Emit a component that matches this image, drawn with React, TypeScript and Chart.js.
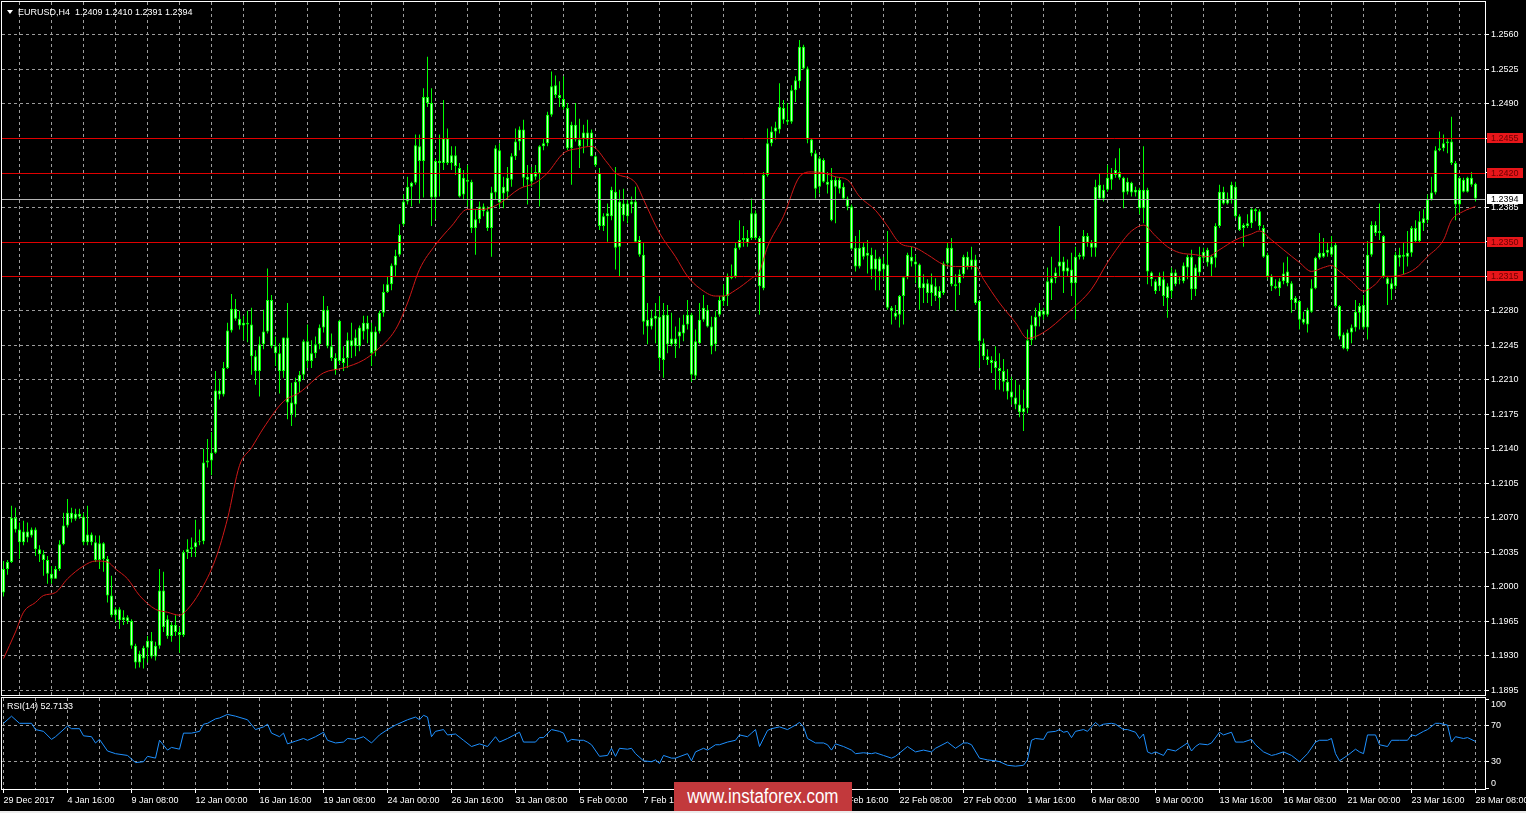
import React, { useEffect, useRef } from "react";
import { Chart, registerables } from "chart.js";

Chart.register(...registerables);

const FONT = "'Liberation Sans', Arial, sans-serif";

// ---- EURUSD H4 candles (bar index 0 = 29 Dec 2017) ----
const opens = [
  1.1994,1.2018,1.2025,1.2070,1.2058,1.2045,1.2056,1.2052,1.2058,1.2038,
  1.2033,1.2027,1.2013,1.2008,1.2018,1.2043,1.2062,1.2075,1.2069,1.2074,
  1.2071,1.2045,1.2053,1.2045,1.2027,1.2044,1.2028,1.1991,1.1971,1.1977,
  1.1966,1.1969,1.1965,1.1940,1.1923,1.1927,1.1938,1.1945,1.1929,1.1940,
  1.1996,1.1967,1.1950,1.1961,1.1954,1.1951,1.2035,1.2038,1.2040,1.2045,
  1.2046,1.2126,1.2128,1.2136,1.2199,1.2195,1.2222,1.2260,1.2282,1.2272,
  1.2265,1.2268,1.2266,1.2234,1.2219,1.2246,1.2259,1.2291,1.2244,1.2237,
  1.2219,1.2253,1.2187,1.2185,1.2208,1.2215,1.2249,1.2229,1.2237,1.2246,
  1.2263,1.2281,1.2244,1.2232,1.2229,1.2227,1.2232,1.2250,1.2244,1.2244,
  1.2259,1.2268,1.2259,1.2239,1.2259,1.2278,1.2299,1.2307,1.2326,1.2337,
  1.2368,1.2391,1.2406,1.2410,1.2447,1.2432,1.2497,1.2491,1.2395,1.2432,
  1.2430,1.2455,1.2430,1.2438,1.2425,1.2398,1.2413,1.2411,1.2364,1.2373,
  1.2386,1.2381,1.2364,1.2400,1.2390,1.2406,1.2401,1.2413,1.2437,1.2452,
  1.2464,1.2416,1.2411,1.2416,1.2420,1.2447,1.2450,1.2479,1.2509,1.2499,
  1.2495,1.2486,1.2445,1.2469,1.2454,1.2455,1.2461,1.2461,1.2437,1.2420,
  1.2366,1.2376,1.2376,1.2401,1.2345,1.2389,1.2376,1.2388,1.2391,1.2352,
  1.2337,1.2271,1.2264,1.2275,1.2274,1.2230,1.2276,1.2246,1.2252,1.2254,
  1.2257,1.2266,1.2276,1.2214,1.2247,1.2271,1.2281,1.2264,1.2246,1.2276,
  1.2290,1.2295,1.2315,1.2315,1.2344,1.2352,1.2354,1.2354,1.2379,1.2354,
  1.2303,1.2418,1.2450,1.2462,1.2464,1.2486,1.2474,1.2472,1.2504,1.2513,
  1.2548,1.2526,1.2454,1.2440,1.2406,1.2433,1.2411,1.2413,1.2406,1.2413,
  1.2406,1.2394,1.2386,1.2344,1.2325,1.2345,1.2336,1.2337,1.2322,1.2333,
  1.2322,1.2327,1.2283,1.2278,1.2276,1.2295,1.2314,1.2335,1.2330,1.2327,
  1.2303,1.2308,1.2298,1.2305,1.2293,1.2298,1.2328,1.2344,1.2307,1.2308,
  1.2317,1.2335,1.2325,1.2332,1.2290,1.2247,1.2234,1.2230,1.2229,1.2222,
  1.2219,1.2208,1.2198,1.2192,1.2185,1.2177,1.2181,1.2250,1.2264,1.2274,
  1.2280,1.2276,1.2308,1.2313,1.2325,1.2330,1.2320,1.2322,1.2308,1.2335,
  1.2335,1.2356,1.2349,1.2344,1.2408,1.2394,1.2403,1.2413,1.2418,1.2421,
  1.2415,1.2401,1.2410,1.2400,1.2403,1.2384,1.2403,1.2319,1.2310,1.2305,
  1.2312,1.2293,1.2300,1.2319,1.2312,1.2310,1.2324,1.2335,1.2302,1.2319,
  1.2334,1.2342,1.2327,1.2334,1.2366,1.2401,1.2389,1.2393,1.2406,1.2376,
  1.2367,1.2366,1.2369,1.2383,1.2381,1.2364,1.2337,1.2315,1.2305,1.2303,
  1.2310,1.2320,1.2308,1.2293,1.2290,1.2272,1.2266,1.2279,1.2303,1.2334,
  1.2339,1.2339,1.2337,1.2347,1.2285,1.2256,1.2241,1.2258,1.2263,1.2278,
  1.2286,1.2263,1.2337,1.2367,1.2359,1.2356,1.2313,1.2308,1.2305,1.2337,
  1.2335,1.2335,1.2339,1.2364,1.2351,1.2369,1.2372,1.2393,1.2400,1.2443,
  1.2445,1.2450,1.2452,1.2430,1.2388,1.2413,1.2401,1.2415,1.2409,
];

const highs = [
  1.2026,1.2027,1.2082,1.2080,1.2065,1.2067,1.2065,1.2060,1.2060,1.2042,
  1.2037,1.2031,1.2021,1.2021,1.2047,1.2075,1.2089,1.2080,1.2079,1.2079,
  1.2075,1.2082,1.2055,1.2052,1.2052,1.2045,1.2031,1.2011,1.1979,1.1979,
  1.1976,1.1971,1.1967,1.1942,1.1935,1.1940,1.1950,1.1954,1.1944,1.2018,
  1.2015,1.1971,1.1964,1.1971,1.1959,1.2037,1.2048,1.2050,1.2068,1.2058,
  1.2140,1.2150,1.2157,1.2219,1.2211,1.2228,1.2268,1.2297,1.2292,1.2280,
  1.2275,1.2280,1.2283,1.2240,1.2254,1.2281,1.2323,1.2296,1.2254,1.2247,
  1.2253,1.2288,1.2207,1.2212,1.2219,1.2251,1.2266,1.2250,1.2254,1.2266,
  1.2295,1.2285,1.2257,1.2237,1.2271,1.2244,1.2258,1.2268,1.2261,1.2265,
  1.2275,1.2275,1.2268,1.2264,1.2280,1.2307,1.2315,1.2328,1.2342,1.2368,
  1.2398,1.2416,1.2411,1.2459,1.2459,1.2506,1.2538,1.2506,1.2434,1.2459,
  1.2494,1.2465,1.2447,1.2447,1.2430,1.2423,1.2428,1.2413,1.2383,1.2391,
  1.2389,1.2386,1.2406,1.2448,1.2450,1.2416,1.2426,1.2440,1.2465,1.2467,
  1.2474,1.2428,1.2426,1.2428,1.2448,1.2455,1.2482,1.2523,1.2519,1.2513,
  1.2518,1.2491,1.2472,1.2491,1.2475,1.2469,1.2474,1.2464,1.2438,1.2425,
  1.2379,1.2389,1.2406,1.2426,1.2403,1.2404,1.2393,1.2396,1.2406,1.2356,
  1.2349,1.2288,1.2281,1.2288,1.2295,1.2288,1.2286,1.2278,1.2264,1.2273,
  1.2276,1.2291,1.2278,1.2261,1.2288,1.2296,1.2286,1.2274,1.2280,1.2295,
  1.2307,1.2318,1.2327,1.2349,1.2372,1.2366,1.2362,1.2394,1.2382,1.2356,
  1.2421,1.2465,1.2467,1.2472,1.2511,1.2494,1.2491,1.2509,1.2518,1.2555,
  1.2550,1.2528,1.2455,1.2443,1.2437,1.2435,1.2421,1.2425,1.2416,1.2415,
  1.2410,1.2396,1.2388,1.2356,1.2362,1.2349,1.2352,1.2344,1.2342,1.2335,
  1.2335,1.2361,1.2285,1.2286,1.2296,1.2315,1.2339,1.2345,1.2337,1.2328,
  1.2317,1.2312,1.2318,1.2313,1.2305,1.2330,1.2349,1.2354,1.2317,1.2322,
  1.2337,1.2340,1.2345,1.2337,1.2291,1.2252,1.2241,1.2234,1.2244,1.2237,
  1.2231,1.2221,1.2213,1.2210,1.2205,1.2200,1.2261,1.2275,1.2283,1.2288,
  1.2283,1.2324,1.2335,1.2324,1.2366,1.2335,1.2332,1.2339,1.2345,1.2339,
  1.2362,1.2359,1.2352,1.2413,1.2420,1.2408,1.2428,1.2425,1.2435,1.2445,
  1.2416,1.2415,1.2411,1.2406,1.2405,1.2447,1.2405,1.2320,1.2312,1.2319,
  1.2320,1.2308,1.2324,1.2322,1.2315,1.2329,1.2337,1.2342,1.2327,1.2345,
  1.2344,1.2344,1.2337,1.2369,1.2408,1.2406,1.2400,1.2411,1.2411,1.2378,
  1.2369,1.2378,1.2384,1.2384,1.2383,1.2367,1.2339,1.2317,1.2312,1.2313,
  1.2329,1.2335,1.2310,1.2295,1.2291,1.2279,1.2283,1.2312,1.2335,1.2359,
  1.2354,1.2349,1.2356,1.2349,1.2286,1.2258,1.2261,1.2266,1.2291,1.2288,
  1.2296,1.2351,1.2371,1.2371,1.2389,1.2357,1.2315,1.2313,1.2340,1.2344,
  1.2349,1.2361,1.2366,1.2372,1.2381,1.2383,1.2398,1.2416,1.2447,1.2462,
  1.2459,1.2455,1.2477,1.2432,1.2416,1.2415,1.2416,1.2421,1.2410,
];

const lows = [
  1.1990,1.2012,1.2024,1.2055,1.2028,1.2042,1.2045,1.2050,1.2031,1.2025,
  1.2011,1.2003,1.2003,1.2008,1.2016,1.2042,1.2060,1.2065,1.2067,1.2069,
  1.2042,1.2042,1.2042,1.2025,1.2018,1.2015,1.1984,1.1969,1.1964,1.1957,
  1.1961,1.1962,1.1937,1.1917,1.1918,1.1917,1.1923,1.1927,1.1925,1.1937,
  1.1954,1.1947,1.1944,1.1950,1.1933,1.1949,1.2028,1.2030,1.2030,1.2042,
  1.2043,1.2121,1.2113,1.2135,1.2190,1.2193,1.2221,1.2258,1.2270,1.2261,
  1.2250,1.2248,1.2215,1.2205,1.2193,1.2241,1.2257,1.2242,1.2224,1.2196,
  1.2212,1.2170,1.2163,1.2172,1.2197,1.2210,1.2222,1.2222,1.2232,1.2241,
  1.2258,1.2242,1.2229,1.2215,1.2226,1.2219,1.2222,1.2232,1.2234,1.2239,
  1.2251,1.2247,1.2224,1.2234,1.2257,1.2274,1.2298,1.2301,1.2315,1.2335,
  1.2366,1.2388,1.2386,1.2408,1.2389,1.2395,1.2487,1.2366,1.2373,1.2396,
  1.2423,1.2428,1.2423,1.2418,1.2395,1.2393,1.2386,1.2359,1.2337,1.2369,
  1.2376,1.2361,1.2335,1.2393,1.2384,1.2384,1.2393,1.2406,1.2433,1.2443,
  1.2406,1.2388,1.2406,1.2413,1.2386,1.2443,1.2447,1.2477,1.2496,1.2487,
  1.2484,1.2443,1.2408,1.2452,1.2425,1.2440,1.2447,1.2437,1.2426,1.2362,
  1.2361,1.2350,1.2372,1.2322,1.2315,1.2371,1.2369,1.2379,1.2349,1.2335,
  1.2256,1.2246,1.2261,1.2247,1.2220,1.2212,1.2237,1.2244,1.2232,1.2242,
  1.2249,1.2261,1.2208,1.2210,1.2246,1.2269,1.2263,1.2236,1.2239,1.2274,
  1.2285,1.2285,1.2312,1.2313,1.2342,1.2345,1.2345,1.2352,1.2352,1.2276,
  1.2301,1.2416,1.2447,1.2454,1.2460,1.2470,1.2469,1.2470,1.2492,1.2506,
  1.2525,1.2450,1.2437,1.2394,1.2399,1.2410,1.2399,1.2371,1.2369,1.2399,
  1.2393,1.2382,1.2342,1.2320,1.2323,1.2332,1.2318,1.2312,1.2301,1.2301,
  1.2312,1.2281,1.2266,1.2271,1.2263,1.2266,1.2312,1.2325,1.2308,1.2281,
  1.2288,1.2288,1.2285,1.2290,1.2281,1.2296,1.2325,1.2305,1.2280,1.2296,
  1.2313,1.2322,1.2322,1.2286,1.2222,1.2230,1.2225,1.2217,1.2200,1.2200,
  1.2198,1.2190,1.2185,1.2180,1.2172,1.2158,1.2176,1.2245,1.2251,1.2264,
  1.2271,1.2274,1.2291,1.2308,1.2315,1.2298,1.2315,1.2295,1.2271,1.2332,
  1.2332,1.2345,1.2335,1.2335,1.2393,1.2391,1.2401,1.2403,1.2415,1.2413,
  1.2384,1.2398,1.2396,1.2396,1.2378,1.2369,1.2307,1.2305,1.2297,1.2300,
  1.2285,1.2273,1.2293,1.2305,1.2307,1.2308,1.2312,1.2291,1.2295,1.2315,
  1.2330,1.2325,1.2315,1.2324,1.2364,1.2388,1.2388,1.2389,1.2374,1.2361,
  1.2345,1.2364,1.2364,1.2371,1.2362,1.2334,1.2312,1.2300,1.2302,1.2295,
  1.2307,1.2305,1.2278,1.2281,1.2261,1.2266,1.2258,1.2278,1.2302,1.2332,
  1.2334,1.2335,1.2335,1.2283,1.2251,1.2241,1.2239,1.2247,1.2259,1.2261,
  1.2261,1.2251,1.2335,1.2356,1.2352,1.2313,1.2286,1.2291,1.2302,1.2325,
  1.2317,1.2325,1.2335,1.2349,1.2349,1.2361,1.2369,1.2392,1.2398,1.2442,
  1.2442,1.2440,1.2428,1.2372,1.2379,1.2400,1.2400,1.2406,1.2391,
];

const closes = [
  1.2018,1.2025,1.2070,1.2058,1.2045,1.2056,1.2050,1.2058,1.2038,1.2033,
  1.2027,1.2013,1.2008,1.2018,1.2043,1.2062,1.2075,1.2069,1.2074,1.2071,
  1.2045,1.2053,1.2045,1.2027,1.2044,1.2028,1.1991,1.1971,1.1977,1.1966,
  1.1969,1.1965,1.1940,1.1923,1.1932,1.1938,1.1945,1.1929,1.1940,1.1996,
  1.1959,1.1950,1.1961,1.1954,1.1951,1.2035,1.2038,1.2040,1.2045,1.2046,
  1.2126,1.2128,1.2136,1.2199,1.2195,1.2222,1.2260,1.2282,1.2272,1.2265,
  1.2268,1.2266,1.2234,1.2219,1.2246,1.2259,1.2291,1.2244,1.2237,1.2219,
  1.2253,1.2187,1.2175,1.2208,1.2215,1.2249,1.2229,1.2237,1.2246,1.2263,
  1.2281,1.2244,1.2232,1.2220,1.2270,1.2232,1.2250,1.2244,1.2253,1.2263,
  1.2268,1.2261,1.2237,1.2259,1.2278,1.2299,1.2307,1.2326,1.2336,1.2357,
  1.2391,1.2406,1.2410,1.2448,1.2432,1.2497,1.2491,1.2395,1.2432,1.2430,
  1.2455,1.2430,1.2438,1.2427,1.2396,1.2415,1.2411,1.2364,1.2373,1.2386,
  1.2381,1.2364,1.2400,1.2445,1.2443,1.2399,1.2415,1.2437,1.2452,1.2464,
  1.2415,1.2413,1.2420,1.2421,1.2447,1.2450,1.2479,1.2508,1.2499,1.2496,
  1.2487,1.2445,1.2469,1.2454,1.2447,1.2461,1.2454,1.2437,1.2428,1.2366,
  1.2376,1.2379,1.2403,1.2344,1.2391,1.2377,1.2389,1.2391,1.2350,1.2337,
  1.2269,1.2264,1.2273,1.2272,1.2232,1.2276,1.2246,1.2252,1.2246,1.2259,
  1.2266,1.2276,1.2215,1.2249,1.2271,1.2283,1.2264,1.2244,1.2274,1.2291,
  1.2295,1.2315,1.2313,1.2344,1.2352,1.2354,1.2349,1.2379,1.2354,1.2305,
  1.2418,1.2450,1.2462,1.2466,1.2487,1.2474,1.2472,1.2504,1.2514,1.2548,
  1.2526,1.2454,1.2440,1.2404,1.2435,1.2411,1.2408,1.2372,1.2413,1.2404,
  1.2394,1.2386,1.2343,1.2325,1.2344,1.2335,1.2339,1.2322,1.2333,1.2320,
  1.2328,1.2283,1.2280,1.2274,1.2295,1.2314,1.2337,1.2330,1.2327,1.2303,
  1.2308,1.2298,1.2307,1.2295,1.2300,1.2328,1.2344,1.2307,1.2305,1.2317,
  1.2335,1.2325,1.2332,1.2288,1.2249,1.2234,1.2230,1.2227,1.2222,1.2219,
  1.2208,1.2198,1.2192,1.2185,1.2177,1.2181,1.2250,1.2266,1.2274,1.2280,
  1.2276,1.2310,1.2313,1.2319,1.2330,1.2320,1.2324,1.2308,1.2335,1.2337,
  1.2356,1.2349,1.2344,1.2406,1.2394,1.2403,1.2415,1.2420,1.2423,1.2415,
  1.2400,1.2411,1.2400,1.2403,1.2384,1.2403,1.2320,1.2312,1.2300,1.2315,
  1.2295,1.2305,1.2319,1.2307,1.2311,1.2326,1.2335,1.2302,1.2324,1.2335,
  1.2340,1.2329,1.2335,1.2366,1.2401,1.2389,1.2394,1.2408,1.2376,1.2362,
  1.2364,1.2369,1.2383,1.2381,1.2366,1.2335,1.2315,1.2305,1.2303,1.2310,
  1.2318,1.2308,1.2291,1.2288,1.2271,1.2268,1.2281,1.2303,1.2334,1.2339,
  1.2335,1.2342,1.2345,1.2285,1.2254,1.2242,1.2258,1.2263,1.2279,1.2285,
  1.2263,1.2337,1.2367,1.2359,1.2361,1.2315,1.2307,1.2302,1.2337,1.2334,
  1.2337,1.2339,1.2364,1.2351,1.2371,1.2374,1.2393,1.2400,1.2443,1.2445,
  1.2450,1.2452,1.2430,1.2388,1.2415,1.2401,1.2415,1.2408,1.2394,
];

// ---- Moving average (red), read at selected bars ----
const maBars = [
  0,3,5,8,10,13,16,20,23,26,28,31,34,38,41,44,46,49,53,56,59,62,65,70,74,80,85,90,93,98,
  101,104,108,112,116,120,124,129,133,136,140,144,147,151,153,158,160,164,168,171,174,178,
  180,183,187,189,191,195,199,202,205,208,211,214,218,221,224,228,231,235,238,243,245,249,
  253,256,260,266,272,276,280,282,285,288,291,294,298,301,304,308,312,314,317,320,324,327,
  330,332,334,337,340,343,345,347,350,353,356,360,362,365,368,
];
const maValues = [
  1.1927,1.1954,1.1974,1.1984,1.1991,1.1994,1.2008,1.2021,1.2026,1.2025,1.2018,1.2008,1.1991,
  1.1977,1.1974,1.1971,1.1977,1.1994,1.2028,1.2069,1.2123,1.2141,1.2161,1.2188,1.2197,1.2217,
  1.2222,1.2230,1.2239,1.2261,1.2288,1.2322,1.2347,1.2366,1.2383,1.2383,1.2389,1.2404,1.2410,
  1.2420,1.2440,1.2445,1.2447,1.2430,1.2420,1.2410,1.2393,1.2359,1.2335,1.2315,1.2303,1.2295,
  1.2295,1.2301,1.2313,1.2320,1.2345,1.2376,1.2416,1.2421,1.2420,1.2416,1.2413,1.2396,1.2382,
  1.2366,1.2349,1.2344,1.2337,1.2327,1.2325,1.2325,1.2312,1.2288,1.2268,1.2252,1.2258,1.2278,
  1.2302,1.2329,1.2352,1.2361,1.2367,1.2356,1.2345,1.2339,1.2337,1.2335,1.2342,1.2352,1.2358,
  1.2361,1.2352,1.2342,1.2329,1.2320,1.2324,1.2326,1.2320,1.2310,1.2300,1.2307,1.2315,1.2315,
  1.2317,1.2323,1.2335,1.2352,1.2372,1.2381,1.2386,
];

// ---- RSI(14), read at selected bars ----
const rsiBars = [
  0,2,4,7,8,10,12,13,16,17,19,20,22,23,24,26,28,31,33,35,36,38,39,41,42,44,45,47,49,50,
  51,53,54,56,58,61,63,65,66,67,69,70,71,73,75,76,78,80,81,83,85,86,88,90,92,94,96,98,101,103,
  104,105,106,107,108,110,111,113,115,117,119,121,123,124,126,129,130,133,134,135,137,139,140,141,
  142,144,145,146,147,149,151,152,153,154,156,157,158,160,162,163,164,165,167,168,171,172,173,175,
  176,178,179,181,183,184,186,187,188,189,191,192,194,196,198,199,200,201,203,205,206,207,208,210,
  212,213,215,217,218,220,222,223,226,228,230,232,233,236,238,240,241,242,244,246,248,249,251,253,
  255,256,257,258,260,261,263,264,265,266,267,268,270,271,273,274,275,277,278,280,281,283,284,285,
  286,287,288,290,291,293,294,296,297,298,299,301,302,304,305,307,308,310,312,313,315,317,318,320,
  322,324,326,328,329,331,332,333,334,336,338,339,340,341,343,344,346,347,349,351,352,353,355,356,
  358,359,361,362,363,365,366,368,
];
const rsiValues = [
  73,81,73,73,66,64,55,58,70,67,67,59,58,51,55,42,39,37,29,30,36,34,54,43,46,44,62,62,64,72,
  73,78,79,83,81,77,66,69,72,62,58,62,50,53,56,54,58,63,54,51,52,56,55,58,51,60,66,71,77,80,
  77,82,80,58,64,66,60,61,54,47,50,47,58,52,56,63,52,52,57,57,66,64,62,52,
  55,54,54,52,49,36,37,45,36,45,44,45,39,31,30,32,28,37,34,34,39,31,41,45,
  43,49,49,52,54,60,58,62,66,47,65,67,69,66,71,74,69,56,51,51,49,43,50,47,
  43,39,40,39,40,37,34,36,47,41,43,41,45,52,45,51,51,49,34,32,31,30,26,25,
  26,32,54,56,55,63,64,66,63,64,57,64,66,64,74,70,72,73,72,66,66,63,56,61,
  41,39,41,37,44,42,45,51,42,47,50,49,51,63,60,63,52,52,55,49,41,37,38,41,
  37,30,39,52,54,54,56,39,31,37,44,41,39,60,60,49,47,54,54,54,60,59,64,66,
  73,73,71,52,58,56,57,52.7,
];

// ---- axes / annotations ----
const priceTicks = [
  1.1895,1.1930,1.1965,1.2000,1.2035,1.2070,1.2105,1.2140,1.2175,1.2210,
  1.2245,1.2280,1.2315,1.2350,1.2385,1.2420,1.2455,1.2490,1.2525,1.2560,
];
const levels = [1.2455, 1.2420, 1.2350, 1.2315];
const lastPrice = 1.2394;
const rsiTicks = [0, 30, 70, 100];
const gridBars = [
  0,8,16,24,32,40,48,56,64,72,80,88,96,104,112,120,128,136,144,152,160,168,176,184,
  192,200,208,216,224,232,240,248,256,264,272,280,288,296,304,312,320,328,336,344,
  352,360,368,
];
const xLabels = [
  "29 Dec 2017","4 Jan 16:00","9 Jan 08:00","12 Jan 00:00","16 Jan 16:00","19 Jan 08:00",
  "24 Jan 00:00","26 Jan 16:00","31 Jan 08:00","5 Feb 00:00","7 Feb 16:00","12 Feb 08:00",
  "15 Feb 00:00","19 Feb 16:00","22 Feb 08:00","27 Feb 00:00","1 Mar 16:00","6 Mar 08:00",
  "9 Mar 00:00","13 Mar 16:00","16 Mar 08:00","21 Mar 00:00","23 Mar 16:00","28 Mar 08:00",
];

// ---- styling ----
const X_MIN = -0.375;
const X_MAX = 370.375;
const Y_MIN = 1.18900;
const Y_MAX = 1.25935;
const RSI_MIN = -0.59;
const RSI_MAX = 101.37;
const GRID = "#9c9c9c";
const CANDLE = "#00ff00";
const BODY_FILL = "#c4ffc4";
const MA_COLOR = "#d01818";
const LEVEL_COLOR = "#e00000";
const RSI_COLOR = "#1e90ff";
const TICK_FONT = { family: FONT, size: 9 };
const NONE = "rgba(0,0,0,0)";

function drawFrame(chart: any) {
  const { ctx, chartArea: a } = chart;
  ctx.save();
  ctx.strokeStyle = "#ffffff";
  ctx.lineWidth = 1;
  ctx.strokeRect(a.left - 0.5, a.top - 0.5, a.right - a.left + 1, a.bottom - a.top + 1);
  ctx.restore();
}

const mainOverlay = {
  id: "mainOverlay",
  afterDatasetsDraw(chart: any) {
    const { ctx, chartArea: a, scales } = chart;
    const y = scales.y;
    ctx.save();
    ctx.lineWidth = 1;
    ctx.strokeStyle = "#b4b4b4";
    const pl = Math.round(y.getPixelForValue(lastPrice)) + 0.5;
    ctx.beginPath();
    ctx.moveTo(a.left, pl);
    ctx.lineTo(a.right, pl);
    ctx.stroke();
    ctx.strokeStyle = LEVEL_COLOR;
    levels.forEach((v) => {
      const py = Math.round(y.getPixelForValue(v)) + 0.5;
      ctx.beginPath();
      ctx.moveTo(a.left, py);
      ctx.lineTo(a.right, py);
      ctx.stroke();
    });
    ctx.restore();
  },
  afterDraw(chart: any) {
    const { ctx, chartArea: a, scales } = chart;
    const y = scales.y;
    drawFrame(chart);
    ctx.save();
    ctx.font = `9px ${FONT}`;
    ctx.textBaseline = "middle";
    ctx.textAlign = "left";
    const box = (v: number, fill: string, text: string) => {
      const py = Math.round(y.getPixelForValue(v));
      ctx.fillStyle = fill;
      ctx.fillRect(a.right + 2, py - 5, 36, 10);
      ctx.fillStyle = text;
      ctx.fillText(v.toFixed(4), a.right + 6, py + 0.5);
    };
    levels.forEach((v) => box(v, "#e8161a", "#6a0000"));
    box(lastPrice, "#ffffff", "#000000");
    ctx.restore();
  },
};

const rsiOverlay = {
  id: "rsiOverlay",
  afterDraw(chart: any) {
    drawFrame(chart);
  },
};

export default function App() {
  const mainRef = useRef<HTMLCanvasElement>(null);
  const rsiRef = useRef<HTMLCanvasElement>(null);

  useEffect(() => {
    document.body.style.margin = "0";
    const wickData = highs.map((h, i) => ({ x: i, y: [lows[i], h] }));
    const bodyData = opens.map((o, i) => ({ x: i, y: [o, closes[i]] }));
    const maData = maBars.map((b, k) => ({ x: b, y: maValues[k] }));
    const rsiData = rsiBars.map((b, k) => ({ x: b, y: rsiValues[k] }));

    const main = new Chart(mainRef.current as HTMLCanvasElement, {
      type: "bar",
      data: {
        datasets: [
          {
            type: "line",
            data: maData,
            borderColor: MA_COLOR,
            borderWidth: 1,
            pointRadius: 0,
            cubicInterpolationMode: "monotone",
            order: 0,
          } as any,
          {
            type: "bar",
            data: bodyData,
            backgroundColor: BODY_FILL,
            borderColor: CANDLE,
            borderWidth: 1,
            borderSkipped: false,
            barThickness: 3,
            grouped: false,
            minBarLength: 1,
            inflateAmount: 0,
            order: 1,
          } as any,
          {
            type: "bar",
            data: wickData,
            backgroundColor: CANDLE,
            borderWidth: 0,
            barThickness: 1,
            grouped: false,
            inflateAmount: 0,
            order: 2,
          } as any,
        ],
      },
      options: {
        responsive: false,
        animation: false,
        events: [],
        layout: { padding: { left: 2, top: 2, right: 0, bottom: 1 } },
        plugins: { legend: { display: false }, tooltip: { enabled: false } },
        scales: {
          x: {
            type: "linear",
            min: X_MIN,
            max: X_MAX,
            offset: false,
            afterBuildTicks: (s: any) => {
              s.ticks = gridBars.map((v) => ({ value: v }));
            },
            afterFit: (s: any) => {
              s.height = 0;
              s.paddingLeft = 0;
              s.paddingRight = 0;
            },
            ticks: { display: false },
            grid: { color: GRID, lineWidth: 1, drawTicks: false },
            border: { display: false, dash: [3, 3] },
          },
          y: {
            type: "linear",
            position: "right",
            min: Y_MIN,
            max: Y_MAX,
            afterBuildTicks: (s: any) => {
              s.ticks = priceTicks.map((v) => ({ value: v }));
            },
            afterFit: (s: any) => {
              s.width = 41;
              s.paddingTop = 0;
              s.paddingBottom = 0;
            },
            ticks: {
              color: "#ffffff",
              font: TICK_FONT,
              padding: 2,
              autoSkip: false,
              callback: (v: any) => Number(v).toFixed(4),
            },
            grid: {
              color: (c: any) =>
                c.tick && levels.some((l) => Math.abs(l - c.tick.value) < 1e-6) ? NONE : GRID,
              lineWidth: 1,
              tickColor: "#ffffff",
              tickLength: 4,
              drawTicks: true,
            },
            border: { display: false, dash: [3, 3] },
          },
        },
      } as any,
      plugins: [mainOverlay],
    });

    const rsi = new Chart(rsiRef.current as HTMLCanvasElement, {
      type: "line",
      data: {
        datasets: [
          {
            data: rsiData,
            borderColor: RSI_COLOR,
            borderWidth: 1,
            pointRadius: 0,
            tension: 0,
          },
        ],
      },
      options: {
        responsive: false,
        animation: false,
        events: [],
        layout: { padding: { left: 2, top: 2, right: 0, bottom: 0 } },
        plugins: { legend: { display: false }, tooltip: { enabled: false } },
        scales: {
          x: {
            type: "linear",
            min: X_MIN,
            max: X_MAX,
            offset: false,
            afterBuildTicks: (s: any) => {
              s.ticks = gridBars.map((v) => ({ value: v }));
            },
            afterFit: (s: any) => {
              s.height = 24;
              s.paddingLeft = 0;
              s.paddingRight = 0;
            },
            ticks: {
              color: "#ffffff",
              font: TICK_FONT,
              padding: 2,
              autoSkip: false,
              maxRotation: 0,
              minRotation: 0,
              align: "start",
              callback: (_v: any, i: number) => (i % 2 === 0 ? xLabels[i / 2] : ""),
            },
            grid: {
              color: GRID,
              lineWidth: 1,
              tickLength: 4,
              drawTicks: true,
              tickColor: (c: any) => (c.index % 2 === 0 ? "#ffffff" : NONE),
            },
            border: { display: false, dash: [3, 3] },
          },
          y: {
            type: "linear",
            position: "right",
            min: RSI_MIN,
            max: RSI_MAX,
            afterBuildTicks: (s: any) => {
              s.ticks = rsiTicks.map((v) => ({ value: v }));
            },
            afterFit: (s: any) => {
              s.width = 41;
              s.paddingTop = 0;
              s.paddingBottom = 0;
            },
            ticks: {
              color: "#ffffff",
              font: TICK_FONT,
              padding: 2,
              autoSkip: false,
              callback: (v: any) => (v === 100 ? ["", "100"] : v === 0 ? ["0", ""] : String(v)),
            },
            grid: {
              color: (c: any) =>
                c.tick && (c.tick.value === 30 || c.tick.value === 70) ? GRID : NONE,
              lineWidth: 1,
              tickColor: "#ffffff",
              tickLength: 4,
              drawTicks: true,
            },
            border: { display: false, dash: [3, 3] },
          },
        },
      } as any,
      plugins: [rsiOverlay],
    });

    return () => {
      main.destroy();
      rsi.destroy();
    };
  }, []);

  const txt: React.CSSProperties = {
    position: "absolute",
    color: "#ffffff",
    fontFamily: FONT,
    fontSize: 9,
    lineHeight: "11px",
    whiteSpace: "pre",
  };

  return (
    <div
      style={{
        position: "fixed",
        left: 0,
        top: 0,
        width: 1526,
        height: 813,
        background: "#000000",
        overflow: "hidden",
      }}
    >
      <canvas
        ref={mainRef}
        width={1526}
        height={696}
        style={{ position: "absolute", left: 0, top: 0, width: 1526, height: 696 }}
      />
      <canvas
        ref={rsiRef}
        width={1526}
        height={117}
        style={{ position: "absolute", left: 0, top: 696, width: 1526, height: 117 }}
      />
      <div
        style={{
          position: "absolute",
          left: 7,
          top: 10,
          width: 0,
          height: 0,
          borderLeft: "3px solid transparent",
          borderRight: "3px solid transparent",
          borderTop: "4px solid #ffffff",
        }}
      />
      <div style={{ ...txt, left: 18, top: 7 }}>EURUSD,H4  1.2409 1.2410 1.2391 1.2394</div>
      <div style={{ ...txt, left: 7, top: 701 }}>RSI(14) 52.7133</div>
      <div
        style={{
          position: "absolute",
          left: 674,
          top: 782,
          width: 178,
          height: 29,
          background: "#c2393c",
          color: "#ffffff",
          fontFamily: FONT,
          fontSize: 20,
          lineHeight: "29px",
          textAlign: "center",
          whiteSpace: "nowrap",
        }}
      >
        <span style={{ display: "inline-block", transform: "scaleX(0.85)", transformOrigin: "center" }}>
          www.instaforex.com
        </span>
      </div>
      <div
        style={{
          position: "absolute",
          left: 0,
          top: 811,
          width: 1526,
          height: 2,
          background: "#ececec",
        }}
      />
    </div>
  );
}
